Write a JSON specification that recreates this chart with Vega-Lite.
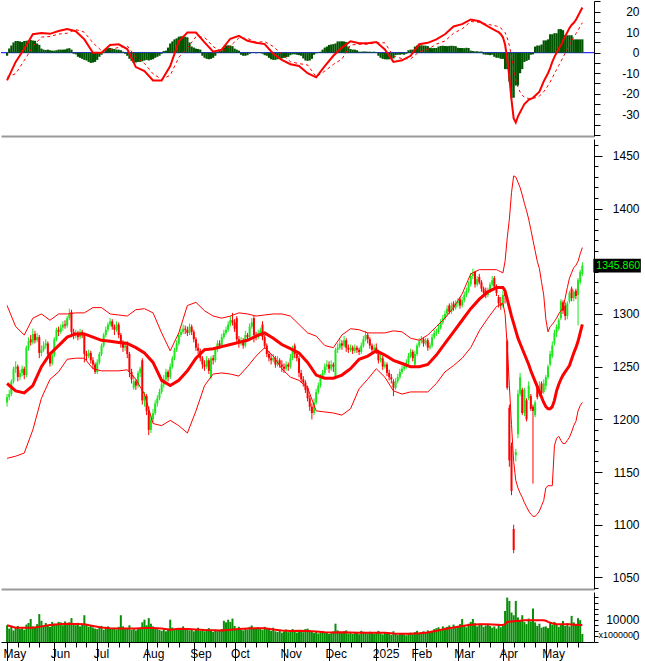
{
"$schema":"https://vega.github.io/schema/vega-lite/v6.json",
"padding":0,
"background":"#ffffff",
"spacing":3,
"bounds":"flush",
"config":{"view":{"stroke":null},"axis":{"grid":false,"labelFont":"Liberation Sans","titleFont":"Liberation Sans","labelColor":"#000000","domainColor":"#000000","tickColor":"#000000","labelOverlap":false,"labelBound":false,"labelFlush":false}},
"datasets":{
"d":[
{"i":0,"o":1216,"h":1224,"l":1212,"c":1221,"v":7500,"mh":-1.5},
{"i":1,"o":1221,"h":1228,"l":1218,"c":1224,"v":6000,"mh":2},
{"i":2,"o":1224,"h":1238,"l":1222,"c":1236,"v":6800,"mh":3.5},
{"i":3,"o":1236,"h":1250,"l":1234,"c":1248,"v":5200,"mh":5},
{"i":4,"o":1248,"h":1255,"l":1244,"c":1250,"v":6500,"mh":5.7},
{"i":5,"o":1250,"h":1252,"l":1236,"c":1240,"v":7200,"mh":5.7},
{"i":6,"o":1240,"h":1247,"l":1237,"c":1244,"v":5800,"mh":5.5},
{"i":7,"o":1244,"h":1251,"l":1241,"c":1248,"v":6200,"mh":5.2},
{"i":8,"o":1248,"h":1250,"l":1238,"c":1242,"v":5500,"mh":5.7},
{"i":9,"o":1242,"h":1270,"l":1240,"c":1268,"v":7800,"mh":5.8},
{"i":10,"o":1268,"h":1278,"l":1265,"c":1274,"v":8500,"mh":6},
{"i":11,"o":1276,"h":1280,"l":1270,"c":1273,"v":10300,"mh":6.2},
{"i":12,"o":1273,"h":1286,"l":1271,"c":1281,"v":7000,"mh":6},
{"i":13,"o":1281,"h":1284,"l":1272,"c":1275,"v":6500,"mh":5.8},
{"i":14,"o":1275,"h":1282,"l":1273,"c":1278,"v":8000,"mh":4.5},
{"i":15,"o":1278,"h":1280,"l":1258,"c":1263,"v":12500,"mh":3.8},
{"i":16,"o":1263,"h":1270,"l":1260,"c":1266,"v":9500,"mh":2},
{"i":17,"o":1266,"h":1274,"l":1264,"c":1270,"v":7000,"mh":1.5},
{"i":18,"o":1270,"h":1276,"l":1267,"c":1272,"v":8500,"mh":1.3},
{"i":19,"o":1272,"h":1274,"l":1258,"c":1262,"v":7200,"mh":1.5},
{"i":20,"o":1262,"h":1264,"l":1250,"c":1253,"v":6800,"mh":1.2},
{"i":21,"o":1253,"h":1264,"l":1251,"c":1261,"v":9000,"mh":1},
{"i":22,"o":1261,"h":1278,"l":1259,"c":1276,"v":8200,"mh":1},
{"i":23,"o":1276,"h":1287,"l":1274,"c":1285,"v":7600,"mh":1.2},
{"i":24,"o":1285,"h":1288,"l":1279,"c":1283,"v":9000,"mh":1.5},
{"i":25,"o":1283,"h":1290,"l":1281,"c":1287,"v":8800,"mh":1.5},
{"i":26,"o":1287,"h":1293,"l":1284,"c":1290,"v":7500,"mh":1.5},
{"i":27,"o":1290,"h":1294,"l":1286,"c":1289,"v":9200,"mh":1.6},
{"i":28,"o":1289,"h":1298,"l":1287,"c":1296,"v":7600,"mh":2},
{"i":29,"o":1296,"h":1305,"l":1294,"c":1300,"v":8800,"mh":2.2},
{"i":30,"o":1302,"h":1304,"l":1278,"c":1283,"v":10700,"mh":1.5},
{"i":31,"o":1283,"h":1286,"l":1276,"c":1280,"v":8200,"mh":-0.5},
{"i":32,"o":1280,"h":1285,"l":1277,"c":1282,"v":7500,"mh":-0.8},
{"i":33,"o":1282,"h":1284,"l":1275,"c":1278,"v":8600,"mh":-2},
{"i":34,"o":1278,"h":1286,"l":1276,"c":1283,"v":7000,"mh":-2.5},
{"i":35,"o":1283,"h":1285,"l":1277,"c":1280,"v":8000,"mh":-3},
{"i":36,"o":1280,"h":1282,"l":1254,"c":1262,"v":12000,"mh":-3.5},
{"i":37,"o":1262,"h":1265,"l":1256,"c":1260,"v":7800,"mh":-3.8},
{"i":38,"o":1260,"h":1266,"l":1258,"c":1263,"v":6800,"mh":-4.5},
{"i":39,"o":1263,"h":1265,"l":1253,"c":1256,"v":7200,"mh":-5},
{"i":40,"o":1256,"h":1259,"l":1248,"c":1252,"v":6500,"mh":-4.8},
{"i":41,"o":1252,"h":1254,"l":1243,"c":1245,"v":6000,"mh":-4.5},
{"i":42,"o":1245,"h":1257,"l":1243,"c":1254,"v":5800,"mh":-3.5},
{"i":43,"o":1254,"h":1264,"l":1252,"c":1262,"v":6800,"mh":-2},
{"i":44,"o":1262,"h":1272,"l":1260,"c":1270,"v":7200,"mh":-1},
{"i":45,"o":1270,"h":1282,"l":1268,"c":1280,"v":5500,"mh":0.5},
{"i":46,"o":1280,"h":1288,"l":1278,"c":1285,"v":6600,"mh":1.8},
{"i":47,"o":1285,"h":1292,"l":1283,"c":1290,"v":7000,"mh":2.2},
{"i":48,"o":1290,"h":1296,"l":1288,"c":1293,"v":6200,"mh":2.3},
{"i":49,"o":1293,"h":1295,"l":1285,"c":1288,"v":5800,"mh":2},
{"i":50,"o":1288,"h":1290,"l":1280,"c":1285,"v":6400,"mh":1.8},
{"i":51,"o":1285,"h":1293,"l":1283,"c":1290,"v":5600,"mh":1.5},
{"i":52,"o":1290,"h":1292,"l":1277,"c":1280,"v":6800,"mh":1.5},
{"i":53,"o":1280,"h":1282,"l":1268,"c":1272,"v":12000,"mh":1.2},
{"i":54,"o":1272,"h":1275,"l":1264,"c":1268,"v":7000,"mh":0.5},
{"i":55,"o":1268,"h":1274,"l":1265,"c":1270,"v":5800,"mh":-0.5},
{"i":56,"o":1270,"h":1274,"l":1258,"c":1262,"v":6200,"mh":-1.5},
{"i":57,"o":1262,"h":1264,"l":1240,"c":1245,"v":7500,"mh":-3},
{"i":58,"o":1245,"h":1248,"l":1234,"c":1238,"v":5400,"mh":-4},
{"i":59,"o":1230,"h":1242,"l":1228,"c":1236,"v":6000,"mh":-5},
{"i":60,"o":1236,"h":1238,"l":1228,"c":1232,"v":5200,"mh":-4.8},
{"i":61,"o":1232,"h":1246,"l":1230,"c":1244,"v":5800,"mh":-4.5},
{"i":62,"o":1244,"h":1250,"l":1240,"c":1248,"v":6200,"mh":-4.5},
{"i":63,"o":1256,"h":1258,"l":1214,"c":1218,"v":8800,"mh":-4.2},
{"i":64,"o":1218,"h":1226,"l":1212,"c":1222,"v":10000,"mh":-3.8},
{"i":65,"o":1222,"h":1224,"l":1204,"c":1208,"v":7500,"mh":-3.5},
{"i":66,"o":1208,"h":1212,"l":1185,"c":1190,"v":10700,"mh":-3.8},
{"i":67,"o":1190,"h":1204,"l":1187,"c":1200,"v":8200,"mh":-3.5},
{"i":68,"o":1200,"h":1210,"l":1197,"c":1206,"v":7000,"mh":-3.2},
{"i":69,"o":1206,"h":1218,"l":1204,"c":1215,"v":6200,"mh":-2.5},
{"i":70,"o":1215,"h":1223,"l":1212,"c":1220,"v":5800,"mh":-2},
{"i":71,"o":1220,"h":1229,"l":1218,"c":1226,"v":5400,"mh":-1.5},
{"i":72,"o":1226,"h":1236,"l":1224,"c":1233,"v":5000,"mh":-0.5},
{"i":73,"o":1233,"h":1242,"l":1230,"c":1238,"v":5600,"mh":0.8},
{"i":74,"o":1238,"h":1248,"l":1236,"c":1245,"v":4800,"mh":1},
{"i":75,"o":1245,"h":1247,"l":1236,"c":1240,"v":6000,"mh":2.5},
{"i":76,"o":1240,"h":1253,"l":1238,"c":1250,"v":10000,"mh":4.5},
{"i":77,"o":1250,"h":1260,"l":1248,"c":1258,"v":6500,"mh":5.5},
{"i":78,"o":1258,"h":1268,"l":1256,"c":1266,"v":5800,"mh":6.5},
{"i":79,"o":1266,"h":1275,"l":1264,"c":1272,"v":6300,"mh":7},
{"i":80,"o":1272,"h":1282,"l":1270,"c":1280,"v":5600,"mh":7.8},
{"i":81,"o":1280,"h":1286,"l":1278,"c":1283,"v":6200,"mh":8},
{"i":82,"o":1283,"h":1290,"l":1281,"c":1286,"v":7000,"mh":8},
{"i":83,"o":1286,"h":1289,"l":1281,"c":1285,"v":5400,"mh":7.8},
{"i":84,"o":1285,"h":1288,"l":1279,"c":1282,"v":6000,"mh":7.5},
{"i":85,"o":1282,"h":1291,"l":1280,"c":1288,"v":5200,"mh":5},
{"i":86,"o":1288,"h":1290,"l":1280,"c":1283,"v":5800,"mh":3},
{"i":87,"o":1283,"h":1285,"l":1273,"c":1276,"v":4800,"mh":2.5},
{"i":88,"o":1276,"h":1278,"l":1265,"c":1268,"v":5600,"mh":2},
{"i":89,"o":1268,"h":1272,"l":1262,"c":1265,"v":6400,"mh":1.8},
{"i":90,"o":1265,"h":1267,"l":1255,"c":1258,"v":5000,"mh":1.5},
{"i":91,"o":1258,"h":1260,"l":1248,"c":1252,"v":5300,"mh":-1.5},
{"i":92,"o":1252,"h":1256,"l":1246,"c":1250,"v":4800,"mh":-2.5},
{"i":93,"o":1250,"h":1260,"l":1248,"c":1256,"v":5800,"mh":-3},
{"i":94,"o":1256,"h":1258,"l":1243,"c":1246,"v":6200,"mh":-3.2},
{"i":95,"o":1240,"h":1260,"l":1238,"c":1258,"v":5000,"mh":-3},
{"i":96,"o":1258,"h":1261,"l":1252,"c":1256,"v":4500,"mh":-2.5},
{"i":97,"o":1256,"h":1268,"l":1254,"c":1266,"v":5600,"mh":-1.5},
{"i":98,"o":1266,"h":1275,"l":1264,"c":1272,"v":4900,"mh":0.5},
{"i":99,"o":1272,"h":1275,"l":1267,"c":1270,"v":5200,"mh":1},
{"i":100,"o":1270,"h":1281,"l":1268,"c":1278,"v":5800,"mh":1.2},
{"i":101,"o":1278,"h":1285,"l":1276,"c":1282,"v":9500,"mh":2.5},
{"i":102,"o":1282,"h":1288,"l":1280,"c":1285,"v":8800,"mh":3.5},
{"i":103,"o":1285,"h":1293,"l":1283,"c":1290,"v":10000,"mh":3.6},
{"i":104,"o":1290,"h":1298,"l":1288,"c":1294,"v":9000,"mh":3.5},
{"i":105,"o":1294,"h":1301,"l":1289,"c":1292,"v":10500,"mh":3.2},
{"i":106,"o":1292,"h":1295,"l":1283,"c":1286,"v":7200,"mh":2},
{"i":107,"o":1296,"h":1298,"l":1272,"c":1276,"v":6000,"mh":1.5},
{"i":108,"o":1276,"h":1279,"l":1268,"c":1272,"v":6800,"mh":1},
{"i":109,"o":1272,"h":1278,"l":1270,"c":1275,"v":5500,"mh":-1},
{"i":110,"o":1275,"h":1277,"l":1267,"c":1270,"v":5200,"mh":-1.5},
{"i":111,"o":1270,"h":1284,"l":1268,"c":1280,"v":6000,"mh":-1.5},
{"i":112,"o":1280,"h":1282,"l":1274,"c":1278,"v":5600,"mh":-1.2},
{"i":113,"o":1278,"h":1291,"l":1276,"c":1288,"v":6800,"mh":-0.5},
{"i":114,"o":1288,"h":1296,"l":1286,"c":1292,"v":7400,"mh":0.3},
{"i":115,"o":1296,"h":1298,"l":1273,"c":1280,"v":6200,"mh":0.2},
{"i":116,"o":1280,"h":1283,"l":1275,"c":1278,"v":5800,"mh":-0.3},
{"i":117,"o":1278,"h":1285,"l":1276,"c":1282,"v":6600,"mh":0.3},
{"i":118,"o":1282,"h":1287,"l":1280,"c":1284,"v":6000,"mh":0.2},
{"i":119,"o":1290,"h":1293,"l":1275,"c":1278,"v":5400,"mh":-0.5},
{"i":120,"o":1278,"h":1280,"l":1267,"c":1270,"v":6800,"mh":-1.2},
{"i":121,"o":1270,"h":1272,"l":1259,"c":1262,"v":6200,"mh":-1.5},
{"i":122,"o":1262,"h":1265,"l":1255,"c":1258,"v":5800,"mh":-2.5},
{"i":123,"o":1258,"h":1262,"l":1252,"c":1256,"v":5000,"mh":-3.2},
{"i":124,"o":1256,"h":1262,"l":1254,"c":1258,"v":6400,"mh":-3.5},
{"i":125,"o":1258,"h":1260,"l":1249,"c":1252,"v":4800,"mh":-3.5},
{"i":126,"o":1252,"h":1260,"l":1250,"c":1256,"v":4500,"mh":-3.2},
{"i":127,"o":1256,"h":1258,"l":1249,"c":1252,"v":5200,"mh":-3},
{"i":128,"o":1252,"h":1256,"l":1245,"c":1250,"v":4200,"mh":-2.8},
{"i":129,"o":1250,"h":1253,"l":1244,"c":1248,"v":4800,"mh":-2.5},
{"i":130,"o":1248,"h":1255,"l":1246,"c":1252,"v":5600,"mh":-2.2},
{"i":131,"o":1252,"h":1254,"l":1246,"c":1250,"v":4400,"mh":-2},
{"i":132,"o":1250,"h":1262,"l":1248,"c":1258,"v":5000,"mh":-1.2},
{"i":133,"o":1258,"h":1270,"l":1256,"c":1266,"v":5800,"mh":-0.8},
{"i":134,"o":1270,"h":1272,"l":1258,"c":1262,"v":4600,"mh":-0.8},
{"i":135,"o":1262,"h":1264,"l":1255,"c":1258,"v":4200,"mh":-1},
{"i":136,"o":1258,"h":1260,"l":1240,"c":1244,"v":5400,"mh":-1.2},
{"i":137,"o":1244,"h":1247,"l":1235,"c":1238,"v":5000,"mh":-1.5},
{"i":138,"o":1238,"h":1241,"l":1231,"c":1235,"v":4400,"mh":-2.8},
{"i":139,"o":1235,"h":1237,"l":1225,"c":1228,"v":5800,"mh":-3.8},
{"i":140,"o":1230,"h":1232,"l":1217,"c":1220,"v":6000,"mh":-4},
{"i":141,"o":1220,"h":1223,"l":1208,"c":1212,"v":5200,"mh":-3.8},
{"i":142,"o":1212,"h":1215,"l":1200,"c":1206,"v":4800,"mh":-3},
{"i":143,"o":1206,"h":1220,"l":1204,"c":1216,"v":4000,"mh":-1},
{"i":144,"o":1216,"h":1229,"l":1214,"c":1226,"v":4600,"mh":-0.3},
{"i":145,"o":1226,"h":1235,"l":1224,"c":1232,"v":3800,"mh":0.3},
{"i":146,"o":1232,"h":1243,"l":1230,"c":1240,"v":4200,"mh":0.5},
{"i":147,"o":1240,"h":1247,"l":1238,"c":1244,"v":4800,"mh":1.5},
{"i":148,"o":1244,"h":1253,"l":1242,"c":1250,"v":4000,"mh":2.5},
{"i":149,"o":1250,"h":1256,"l":1247,"c":1252,"v":4400,"mh":3},
{"i":150,"o":1252,"h":1255,"l":1244,"c":1248,"v":3600,"mh":3.8},
{"i":151,"o":1248,"h":1256,"l":1246,"c":1252,"v":4000,"mh":4},
{"i":152,"o":1252,"h":1254,"l":1245,"c":1250,"v":4800,"mh":4.2},
{"i":153,"o":1240,"h":1268,"l":1238,"c":1266,"v":8200,"mh":4.5},
{"i":154,"o":1266,"h":1272,"l":1263,"c":1268,"v":5200,"mh":5.5},
{"i":155,"o":1268,"h":1277,"l":1266,"c":1272,"v":4600,"mh":5.5},
{"i":156,"o":1272,"h":1275,"l":1266,"c":1270,"v":4200,"mh":5.6},
{"i":157,"o":1270,"h":1279,"l":1268,"c":1275,"v":4800,"mh":5.5},
{"i":158,"o":1275,"h":1277,"l":1264,"c":1268,"v":5200,"mh":5.2},
{"i":159,"o":1268,"h":1271,"l":1263,"c":1266,"v":3800,"mh":3},
{"i":160,"o":1266,"h":1271,"l":1264,"c":1268,"v":4200,"mh":1.8},
{"i":161,"o":1268,"h":1270,"l":1262,"c":1265,"v":3600,"mh":1.5},
{"i":162,"o":1265,"h":1271,"l":1263,"c":1268,"v":4400,"mh":1.5},
{"i":163,"o":1268,"h":1270,"l":1263,"c":1266,"v":4000,"mh":1.2},
{"i":164,"o":1266,"h":1268,"l":1261,"c":1264,"v":3500,"mh":0.5},
{"i":165,"o":1264,"h":1273,"l":1262,"c":1270,"v":5000,"mh":0.5},
{"i":166,"o":1270,"h":1279,"l":1268,"c":1276,"v":4600,"mh":0.6},
{"i":167,"o":1276,"h":1284,"l":1274,"c":1280,"v":4200,"mh":0.6},
{"i":168,"o":1280,"h":1282,"l":1272,"c":1276,"v":3800,"mh":0.5},
{"i":169,"o":1276,"h":1278,"l":1267,"c":1270,"v":4600,"mh":0.5},
{"i":170,"o":1270,"h":1272,"l":1263,"c":1266,"v":4000,"mh":0.4},
{"i":171,"o":1266,"h":1271,"l":1264,"c":1268,"v":3600,"mh":0.5},
{"i":172,"o":1268,"h":1272,"l":1262,"c":1264,"v":4200,"mh":0.3},
{"i":173,"o":1264,"h":1266,"l":1253,"c":1256,"v":5000,"mh":-1.5},
{"i":174,"o":1256,"h":1262,"l":1254,"c":1258,"v":3800,"mh":-2.5},
{"i":175,"o":1258,"h":1260,"l":1247,"c":1250,"v":3400,"mh":-3},
{"i":176,"o":1250,"h":1255,"l":1248,"c":1252,"v":4400,"mh":-3.2},
{"i":177,"o":1252,"h":1254,"l":1241,"c":1244,"v":3600,"mh":-3.3},
{"i":178,"o":1244,"h":1247,"l":1237,"c":1240,"v":4000,"mh":-3.2},
{"i":179,"o":1240,"h":1243,"l":1234,"c":1238,"v":3200,"mh":-3},
{"i":180,"o":1236,"h":1238,"l":1222,"c":1230,"v":4800,"mh":-2.8},
{"i":181,"o":1230,"h":1239,"l":1228,"c":1236,"v":3800,"mh":-1.2},
{"i":182,"o":1236,"h":1243,"l":1234,"c":1240,"v":3200,"mh":-1},
{"i":183,"o":1240,"h":1248,"l":1238,"c":1245,"v":3600,"mh":-1},
{"i":184,"o":1245,"h":1251,"l":1243,"c":1248,"v":4000,"mh":-0.8},
{"i":185,"o":1248,"h":1253,"l":1246,"c":1250,"v":3400,"mh":-1},
{"i":186,"o":1250,"h":1257,"l":1248,"c":1254,"v":3000,"mh":-0.5},
{"i":187,"o":1254,"h":1263,"l":1252,"c":1260,"v":3800,"mh":1.2},
{"i":188,"o":1260,"h":1267,"l":1258,"c":1264,"v":4200,"mh":1.5},
{"i":189,"o":1264,"h":1266,"l":1255,"c":1258,"v":3500,"mh":1.5},
{"i":190,"o":1252,"h":1265,"l":1250,"c":1262,"v":4400,"mh":3},
{"i":191,"o":1262,"h":1272,"l":1260,"c":1270,"v":5000,"mh":3.5},
{"i":192,"o":1270,"h":1277,"l":1268,"c":1274,"v":3800,"mh":3.6},
{"i":193,"o":1274,"h":1279,"l":1272,"c":1276,"v":4200,"mh":3.6},
{"i":194,"o":1276,"h":1278,"l":1269,"c":1272,"v":4800,"mh":3.5},
{"i":195,"o":1272,"h":1277,"l":1270,"c":1275,"v":4000,"mh":3.4},
{"i":196,"o":1275,"h":1277,"l":1265,"c":1268,"v":5200,"mh":3.2},
{"i":197,"o":1268,"h":1273,"l":1266,"c":1270,"v":4400,"mh":2.4},
{"i":198,"o":1270,"h":1281,"l":1268,"c":1278,"v":5000,"mh":2.2},
{"i":199,"o":1278,"h":1285,"l":1276,"c":1282,"v":5800,"mh":2.3},
{"i":200,"o":1282,"h":1286,"l":1279,"c":1283,"v":6200,"mh":2.3},
{"i":201,"o":1283,"h":1290,"l":1281,"c":1287,"v":6600,"mh":3},
{"i":202,"o":1287,"h":1295,"l":1285,"c":1292,"v":5400,"mh":3.3},
{"i":203,"o":1292,"h":1299,"l":1290,"c":1296,"v":7000,"mh":3.4},
{"i":204,"o":1296,"h":1303,"l":1294,"c":1300,"v":6400,"mh":3.3},
{"i":205,"o":1300,"h":1308,"l":1298,"c":1305,"v":6800,"mh":3.2},
{"i":206,"o":1308,"h":1310,"l":1300,"c":1302,"v":7400,"mh":3.3},
{"i":207,"o":1302,"h":1311,"l":1300,"c":1308,"v":6000,"mh":3.4},
{"i":208,"o":1310,"h":1312,"l":1303,"c":1306,"v":7800,"mh":3.3},
{"i":209,"o":1306,"h":1313,"l":1304,"c":1310,"v":6800,"mh":3.2},
{"i":210,"o":1310,"h":1315,"l":1307,"c":1312,"v":7200,"mh":2.4},
{"i":211,"o":1314,"h":1316,"l":1305,"c":1308,"v":8000,"mh":2.3},
{"i":212,"o":1308,"h":1316,"l":1306,"c":1313,"v":10300,"mh":2.3},
{"i":213,"o":1313,"h":1321,"l":1311,"c":1318,"v":7400,"mh":2.2},
{"i":214,"o":1318,"h":1325,"l":1316,"c":1322,"v":6600,"mh":2.4},
{"i":215,"o":1322,"h":1331,"l":1320,"c":1328,"v":8200,"mh":2.3},
{"i":216,"o":1328,"h":1339,"l":1326,"c":1336,"v":9000,"mh":1},
{"i":217,"o":1336,"h":1343,"l":1333,"c":1338,"v":10300,"mh":0.8},
{"i":218,"o":1340,"h":1341,"l":1325,"c":1328,"v":8400,"mh":0.6},
{"i":219,"o":1328,"h":1336,"l":1326,"c":1333,"v":7000,"mh":0.7},
{"i":220,"o":1335,"h":1338,"l":1328,"c":1330,"v":7600,"mh":0.5},
{"i":221,"o":1330,"h":1332,"l":1321,"c":1324,"v":8200,"mh":0.6},
{"i":222,"o":1324,"h":1326,"l":1317,"c":1320,"v":6800,"mh":-0.8},
{"i":223,"o":1322,"h":1325,"l":1315,"c":1318,"v":7400,"mh":-1},
{"i":224,"o":1318,"h":1325,"l":1316,"c":1322,"v":8000,"mh":-1},
{"i":225,"o":1322,"h":1330,"l":1320,"c":1328,"v":7200,"mh":-1.2},
{"i":226,"o":1328,"h":1336,"l":1326,"c":1332,"v":6400,"mh":-1},
{"i":227,"o":1334,"h":1336,"l":1323,"c":1326,"v":7000,"mh":-2},
{"i":228,"o":1326,"h":1328,"l":1317,"c":1320,"v":6000,"mh":-2.5},
{"i":229,"o":1316,"h":1318,"l":1306,"c":1310,"v":7800,"mh":-2.5},
{"i":230,"o":1310,"h":1316,"l":1304,"c":1308,"v":6600,"mh":-3},
{"i":231,"o":1308,"h":1322,"l":1306,"c":1318,"v":7200,"mh":-3},
{"i":232,"o":1322,"h":1324,"l":1310,"c":1317,"v":13900,"mh":-8},
{"i":233,"o":1274,"h":1276,"l":1228,"c":1230,"v":19900,"mh":-8},
{"i":234,"o":1211,"h":1214,"l":1155,"c":1161,"v":18400,"mh":-14},
{"i":235,"o":1175,"h":1178,"l":1128,"c":1132,"v":13200,"mh":-22},
{"i":236,"o":1096,"h":1100,"l":1073,"c":1076,"v":12000,"mh":-22},
{"i":237,"o":1166,"h":1172,"l":1160,"c":1169,"v":18400,"mh":-16},
{"i":238,"o":1186,"h":1228,"l":1182,"c":1224,"v":11000,"mh":-16},
{"i":239,"o":1224,"h":1244,"l":1222,"c":1240,"v":9500,"mh":-10},
{"i":240,"o":1228,"h":1230,"l":1204,"c":1206,"v":12000,"mh":-8},
{"i":241,"o":1206,"h":1230,"l":1203,"c":1228,"v":9000,"mh":-4.5},
{"i":242,"o":1218,"h":1220,"l":1198,"c":1200,"v":8000,"mh":-4},
{"i":243,"o":1220,"h":1236,"l":1218,"c":1232,"v":10500,"mh":-3.5},
{"i":244,"o":1222,"h":1224,"l":1208,"c":1210,"v":9200,"mh":-1},
{"i":245,"o":1212,"h":1214,"l":1139,"c":1208,"v":15000,"mh":-0.8},
{"i":246,"o":1204,"h":1218,"l":1202,"c":1216,"v":8800,"mh":3},
{"i":247,"o":1232,"h":1234,"l":1219,"c":1221,"v":7200,"mh":3.5},
{"i":248,"o":1225,"h":1236,"l":1222,"c":1232,"v":8200,"mh":3.5},
{"i":249,"o":1234,"h":1236,"l":1222,"c":1225,"v":6400,"mh":4},
{"i":250,"o":1226,"h":1238,"l":1224,"c":1234,"v":6800,"mh":6},
{"i":251,"o":1232,"h":1242,"l":1228,"c":1240,"v":7000,"mh":6},
{"i":252,"o":1240,"h":1252,"l":1238,"c":1250,"v":6200,"mh":6.5},
{"i":253,"o":1252,"h":1265,"l":1250,"c":1262,"v":8600,"mh":9},
{"i":254,"o":1260,"h":1274,"l":1258,"c":1270,"v":7800,"mh":9},
{"i":255,"o":1272,"h":1285,"l":1270,"c":1282,"v":9000,"mh":9.5},
{"i":256,"o":1282,"h":1290,"l":1278,"c":1288,"v":7600,"mh":9.5},
{"i":257,"o":1286,"h":1296,"l":1284,"c":1294,"v":6800,"mh":11.5},
{"i":258,"o":1296,"h":1314,"l":1294,"c":1312,"v":8000,"mh":11.5},
{"i":259,"o":1311,"h":1313,"l":1300,"c":1303,"v":9400,"mh":11},
{"i":260,"o":1308,"h":1311,"l":1294,"c":1298,"v":7200,"mh":8.5},
{"i":261,"o":1298,"h":1312,"l":1295,"c":1310,"v":8400,"mh":8.5},
{"i":262,"o":1312,"h":1322,"l":1310,"c":1320,"v":7000,"mh":8.5},
{"i":263,"o":1324,"h":1326,"l":1312,"c":1315,"v":11700,"mh":8.5},
{"i":264,"o":1315,"h":1323,"l":1312,"c":1321,"v":8800,"mh":6.5},
{"i":265,"o":1322,"h":1324,"l":1314,"c":1317,"v":7600,"mh":6.5},
{"i":266,"o":1318,"h":1334,"l":1289,"c":1332,"v":10700,"mh":6.5},
{"i":267,"o":1330,"h":1342,"l":1328,"c":1340,"v":9800,"mh":6.5},
{"i":268,"o":1338,"h":1349,"l":1336,"c":1345.86,"v":3600,"mh":6.5}
],
"ln":[
{"i":0,"m":-13.5,"s":-12,"bu":1308,"bm":1234,"bl":1163,"vm":7500},
{"i":4,"m":-4.5,"s":-10.2,"bu":1288,"bm":1227,"bl":1165,"vm":6400},
{"i":8,"m":1.9,"s":-3.8,"bu":1280,"bm":1225,"bl":1168,"vm":6400},
{"i":12,"m":9,"s":3,"bu":1296,"bm":1232,"bl":1190,"vm":6400},
{"i":16,"m":9.6,"s":7.6,"bu":1300,"bm":1250,"bl":1220,"vm":7000},
{"i":20,"m":9.2,"s":7.9,"bu":1294,"bm":1262,"bl":1238,"vm":7600},
{"i":24,"m":10.6,"s":9.1,"bu":1300,"bm":1270,"bl":1245,"vm":7900},
{"i":28,"m":11.5,"s":9.5,"bu":1300,"bm":1278,"bl":1257,"vm":8200},
{"i":32,"m":10.5,"s":11.3,"bu":1301,"bm":1281,"bl":1258,"vm":8100},
{"i":36,"m":6.5,"s":10,"bu":1301,"bm":1281,"bl":1258,"vm":7900},
{"i":40,"m":0,"s":4.8,"bu":1306,"bm":1278,"bl":1248,"vm":7200},
{"i":44,"m":0,"s":1,"bu":1306,"bm":1275,"bl":1246,"vm":6500},
{"i":48,"m":3.8,"s":1.5,"bu":1300,"bm":1274,"bl":1246,"vm":6200},
{"i":52,"m":4.1,"s":2.6,"bu":1299,"bm":1273,"bl":1246,"vm":6000},
{"i":56,"m":1.8,"s":3.3,"bu":1298,"bm":1272,"bl":1247,"vm":6000},
{"i":60,"m":-7,"s":-2.2,"bu":1304,"bm":1268,"bl":1238,"vm":6000},
{"i":64,"m":-9,"s":-5.2,"bu":1305,"bm":1263,"bl":1224,"vm":6300},
{"i":68,"m":-13.5,"s":-10.3,"bu":1301,"bm":1254,"bl":1196,"vm":6300},
{"i":72,"m":-13.5,"s":-13,"bu":1282,"bm":1237,"bl":1194,"vm":6000},
{"i":76,"m":-6.5,"s":-11,"bu":1265,"bm":1232,"bl":1199,"vm":5500},
{"i":80,"m":5.5,"s":-2.3,"bu":1282,"bm":1237,"bl":1194,"vm":5900},
{"i":84,"m":9.8,"s":2.3,"bu":1308,"bm":1246,"bl":1187,"vm":5800},
{"i":88,"m":9.8,"s":7.8,"bu":1311,"bm":1258,"bl":1208,"vm":5600},
{"i":92,"m":5,"s":7.5,"bu":1303,"bm":1266,"bl":1232,"vm":5400},
{"i":96,"m":0.5,"s":3,"bu":1298,"bm":1267,"bl":1243,"vm":5300},
{"i":100,"m":1.5,"s":0.3,"bu":1296,"bm":1269,"bl":1244,"vm":5200},
{"i":104,"m":6.8,"s":3.3,"bu":1298,"bm":1271,"bl":1243,"vm":5500},
{"i":108,"m":8.2,"s":7.2,"bu":1301,"bm":1273,"bl":1241,"vm":5800},
{"i":112,"m":5.8,"s":7,"bu":1300,"bm":1275,"bl":1250,"vm":6100},
{"i":116,"m":4.8,"s":5.1,"bu":1298,"bm":1279,"bl":1260,"vm":6200},
{"i":120,"m":4.2,"s":5.4,"bu":1299,"bm":1282,"bl":1268,"vm":6200},
{"i":124,"m":-0.5,"s":3,"bu":1300,"bm":1277,"bl":1260,"vm":5600},
{"i":128,"m":-3.5,"s":-0.7,"bu":1300,"bm":1271,"bl":1248,"vm":5100},
{"i":132,"m":-5.6,"s":-4.4,"bu":1298,"bm":1267,"bl":1240,"vm":4900},
{"i":136,"m":-6.5,"s":-5.3,"bu":1290,"bm":1263,"bl":1237,"vm":5000},
{"i":140,"m":-10,"s":-6,"bu":1282,"bm":1254,"bl":1230,"vm":4900},
{"i":144,"m":-12,"s":-11.7,"bu":1279,"bm":1242,"bl":1208,"vm":4700},
{"i":148,"m":-6.5,"s":-9,"bu":1270,"bm":1239,"bl":1207,"vm":4400},
{"i":152,"m":-1.5,"s":-5.7,"bu":1268,"bm":1239,"bl":1206,"vm":4300},
{"i":156,"m":2.5,"s":-3.1,"bu":1280,"bm":1242,"bl":1204,"vm":4400},
{"i":160,"m":5.6,"s":3.8,"bu":1286,"bm":1248,"bl":1210,"vm":4300},
{"i":164,"m":4.6,"s":4.1,"bu":1285,"bm":1257,"bl":1229,"vm":4200},
{"i":168,"m":4.6,"s":4.1,"bu":1282,"bm":1260,"bl":1238,"vm":4200},
{"i":172,"m":5.2,"s":4.9,"bu":1282,"bm":1265,"bl":1248,"vm":4200},
{"i":176,"m":1.6,"s":4.8,"bu":1282,"bm":1261,"bl":1240,"vm":4100},
{"i":180,"m":-4.5,"s":-1.7,"bu":1284,"bm":1256,"bl":1227,"vm":3800},
{"i":184,"m":-3.7,"s":-2.9,"bu":1283,"bm":1253,"bl":1224,"vm":3700},
{"i":188,"m":-1.5,"s":-3,"bu":1277,"bm":1250,"bl":1226,"vm":3700},
{"i":192,"m":4.1,"s":0.5,"bu":1275,"bm":1250,"bl":1226,"vm":3900},
{"i":196,"m":4.8,"s":1.6,"bu":1280,"bm":1252,"bl":1226,"vm":4300},
{"i":200,"m":6.5,"s":4.2,"bu":1288,"bm":1261,"bl":1234,"vm":5000},
{"i":204,"m":9,"s":5.7,"bu":1296,"bm":1272,"bl":1245,"vm":5800},
{"i":208,"m":12.8,"s":9.5,"bu":1306,"bm":1283,"bl":1251,"vm":6500},
{"i":212,"m":13.9,"s":11.6,"bu":1319,"bm":1294,"bl":1258,"vm":7200},
{"i":216,"m":16.2,"s":15.2,"bu":1338,"bm":1305,"bl":1268,"vm":7700},
{"i":220,"m":15.3,"s":14.8,"bu":1342,"bm":1314,"bl":1284,"vm":7900},
{"i":224,"m":12.8,"s":13.8,"bu":1342,"bm":1321,"bl":1296,"vm":7900},
{"i":228,"m":10.5,"s":13,"bu":1342,"bm":1325,"bl":1307,"vm":7700},
{"i":229,"m":10,"s":12.6,"bu":1341,"bm":1325,"bl":1308,"vm":7700},
{"i":230,"m":9,"s":12,"bu":1340,"bm":1325,"bl":1309,"vm":7600},
{"i":231,"m":7.5,"s":11,"bu":1339,"bm":1325,"bl":1310,"vm":7600},
{"i":232,"m":4,"s":9.8,"bu":1350,"bm":1322,"bl":1300,"vm":8000},
{"i":233,"m":-3,"s":7.2,"bu":1372,"bm":1314,"bl":1270,"vm":9000},
{"i":234,"m":-12,"s":3.4,"bu":1390,"bm":1306,"bl":1232,"vm":9100},
{"i":235,"m":-23,"s":-1.9,"bu":1415,"bm":1298,"bl":1195,"vm":9200},
{"i":236,"m":-32,"s":-7.9,"bu":1431,"bm":1291,"bl":1160,"vm":9300},
{"i":237,"m":-34,"s":-13.1,"bu":1430,"bm":1284,"bl":1142,"vm":9400},
{"i":238,"m":-31,"s":-16.7,"bu":1425,"bm":1277,"bl":1135,"vm":9400},
{"i":239,"m":-29,"s":-19.2,"bu":1420,"bm":1272,"bl":1130,"vm":9500},
{"i":240,"m":-27,"s":-20.8,"bu":1413,"bm":1267,"bl":1126,"vm":9600},
{"i":241,"m":-25,"s":-21.6,"bu":1405,"bm":1262,"bl":1121,"vm":9700},
{"i":242,"m":-24,"s":-22.1,"bu":1398,"bm":1257,"bl":1117,"vm":9700},
{"i":243,"m":-23,"s":-22.3,"bu":1390,"bm":1252,"bl":1113,"vm":9700},
{"i":244,"m":-22.5,"s":-22.3,"bu":1380,"bm":1246,"bl":1110,"vm":9700},
{"i":245,"m":-22,"s":-22.2,"bu":1370,"bm":1241,"bl":1108,"vm":9700},
{"i":246,"m":-21,"s":-22,"bu":1360,"bm":1236,"bl":1108,"vm":9700},
{"i":247,"m":-20,"s":-21.6,"bu":1350,"bm":1231,"bl":1110,"vm":9700},
{"i":248,"m":-19,"s":-21.1,"bu":1343,"bm":1226,"bl":1113,"vm":9700},
{"i":249,"m":-16.5,"s":-20.2,"bu":1330,"bm":1221,"bl":1118,"vm":9700},
{"i":250,"m":-14,"s":-19,"bu":1318,"bm":1216,"bl":1123,"vm":9700},
{"i":251,"m":-12,"s":-17.6,"bu":1295,"bm":1212,"bl":1135,"vm":9500},
{"i":252,"m":-10,"s":-16,"bu":1283,"bm":1210,"bl":1137,"vm":9000},
{"i":253,"m":-7.5,"s":-14.3,"bu":1288,"bm":1210,"bl":1137,"vm":8700},
{"i":254,"m":-4.5,"s":-12.3,"bu":1290,"bm":1212,"bl":1137,"vm":8400},
{"i":255,"m":-2,"s":-10.2,"bu":1293,"bm":1218,"bl":1175,"vm":8200},
{"i":256,"m":0,"s":-8.2,"bu":1296,"bm":1227,"bl":1182,"vm":8000},
{"i":257,"m":2,"s":-6.2,"bu":1300,"bm":1233,"bl":1184,"vm":7900},
{"i":258,"m":3.5,"s":-4.3,"bu":1303,"bm":1238,"bl":1180,"vm":7900},
{"i":259,"m":6,"s":-2.3,"bu":1306,"bm":1242,"bl":1177,"vm":7900},
{"i":260,"m":8,"s":-0.2,"bu":1315,"bm":1245,"bl":1177,"vm":7900},
{"i":261,"m":10,"s":1.8,"bu":1325,"bm":1248,"bl":1180,"vm":7900},
{"i":262,"m":12,"s":3.8,"bu":1334,"bm":1251,"bl":1183,"vm":7900},
{"i":263,"m":13.5,"s":5.7,"bu":1339,"bm":1257,"bl":1188,"vm":7800},
{"i":264,"m":14.6,"s":7.5,"bu":1344,"bm":1263,"bl":1194,"vm":7700},
{"i":265,"m":16,"s":9.2,"bu":1346,"bm":1268,"bl":1198,"vm":7700},
{"i":266,"m":18,"s":11,"bu":1350,"bm":1274,"bl":1208,"vm":7600},
{"i":267,"m":20,"s":12.8,"bu":1357,"bm":1282,"bl":1213,"vm":7600},
{"i":268,"m":22,"s":14.6,"bu":1363,"bm":1290,"bl":1216,"vm":7600}
]
},
"vconcat":[
{
"width":593,"height":135,
"layer":[
{"data":{"values":[{}]},"mark":{"type":"rule","color":"#0000ff","strokeWidth":1},
 "encoding":{"y":{"datum":0,"type":"quantitative","scale":{"domain":[-40.6,25.2],"nice":false,"zero":false}}}},
{"data":{"name":"d"},"mark":{"type":"bar","color":"#005500","size":2.2},
 "encoding":{
  "x":{"field":"i","type":"quantitative","scale":{"domain":[-0.5,271.1],"nice":false,"zero":false},
       "axis":{"orient":"bottom","title":null,"labels":false,"ticks":false,"domainColor":"#9a9a9a","domainWidth":2}},
  "y":{"field":"mh","type":"quantitative","scale":{"domain":[-40.6,25.2],"nice":false,"zero":false},
       "axis":{"orient":"right","title":null,"tickCount":1000,"values":[-40,-35,-30,-25,-20,-15,-10,-5,0,5,10,15,20,25],
        "labelExpr":"datum.value % 10 === 0 && datum.value > -40 ? '' + datum.value : ''",
        "labelFontSize":{"condition":{"test":"datum.value % 10 === 0 && datum.value > -40","value":12},"value":0},
        "tickSize":6,"labelAlign":"right","labelPadding":39,"labelBaseline":"middle",
        "labelOverlap":false,"labelBound":false,"labelFlush":false}},
  "y2":{"datum":0}}},
{"data":{"name":"ln"},"mark":{"type":"line","color":"#ff0000","strokeWidth":1,"strokeDash":[3,3]},
 "encoding":{
  "x":{"field":"i","type":"quantitative","scale":{"domain":[-0.5,271.1],"nice":false,"zero":false}},
  "y":{"field":"s","type":"quantitative","scale":{"domain":[-40.6,25.2],"nice":false,"zero":false}}}},
{"data":{"name":"ln"},"mark":{"type":"line","color":"#ff0000","strokeWidth":2},
 "encoding":{
  "x":{"field":"i","type":"quantitative","scale":{"domain":[-0.5,271.1],"nice":false,"zero":false}},
  "y":{"field":"m","type":"quantitative","scale":{"domain":[-40.6,25.2],"nice":false,"zero":false}}}}
]
},
{
"width":593,"height":450,
"layer":[
{"data":{"name":"d"},"mark":{"type":"rule","strokeWidth":1},
 "encoding":{
  "x":{"field":"i","type":"quantitative","scale":{"domain":[-0.5,271.1],"nice":false,"zero":false},
       "axis":{"orient":"bottom","title":null,"labels":false,"ticks":false,"domainColor":"#9a9a9a","domainWidth":2}},
  "y":{"field":"l","type":"quantitative","scale":{"domain":[1039,1466],"nice":false,"zero":false},
       "axis":{"orient":"right","title":null,"tickCount":1000,"values":[1040,1050,1060,1070,1080,1090,1100,1110,1120,1130,1140,1150,1160,1170,1180,1190,1200,1210,1220,1230,1240,1250,1260,1270,1280,1290,1300,1310,1320,1330,1340,1350,1360,1370,1380,1390,1400,1410,1420,1430,1440,1450,1460],
        "labelExpr":"datum.value % 50 === 0 && datum.value !== 1350 ? '' + datum.value : ''",
        "labelFontSize":{"condition":{"test":"datum.value % 50 === 0 && datum.value !== 1350","value":12},"value":0},
        "tickSize":{"condition":{"test":"datum.value % 50 === 0","value":8},"value":4},
        "labelAlign":"right","labelPadding":37,"labelBaseline":"middle",
        "labelOverlap":false,"labelBound":false,"labelFlush":false}},
  "y2":{"field":"h"},
  "color":{"condition":{"test":"datum.c >= datum.o","value":"#1ee61e"},"value":"#ff0000"}}},
{"data":{"name":"d"},"mark":{"type":"bar","size":2},
 "encoding":{
  "x":{"field":"i","type":"quantitative","scale":{"domain":[-0.5,271.1],"nice":false,"zero":false}},
  "y":{"field":"o","type":"quantitative","scale":{"domain":[1039,1466],"nice":false,"zero":false}},
  "y2":{"field":"c"},
  "color":{"condition":{"test":"datum.c >= datum.o","value":"#1ee61e"},"value":"#ff0000"}}},
{"data":{"name":"ln"},"mark":{"type":"line","color":"#ff0000","strokeWidth":1},
 "encoding":{
  "x":{"field":"i","type":"quantitative","scale":{"domain":[-0.5,271.1],"nice":false,"zero":false}},
  "y":{"field":"bu","type":"quantitative","scale":{"domain":[1039,1466],"nice":false,"zero":false}}}},
{"data":{"name":"ln"},"mark":{"type":"line","color":"#ff0000","strokeWidth":1},
 "encoding":{
  "x":{"field":"i","type":"quantitative","scale":{"domain":[-0.5,271.1],"nice":false,"zero":false}},
  "y":{"field":"bl","type":"quantitative","scale":{"domain":[1039,1466],"nice":false,"zero":false}}}},
{"data":{"name":"ln"},"mark":{"type":"line","color":"#ff0000","strokeWidth":3},
 "encoding":{
  "x":{"field":"i","type":"quantitative","scale":{"domain":[-0.5,271.1],"nice":false,"zero":false}},
  "y":{"field":"bm","type":"quantitative","scale":{"domain":[1039,1466],"nice":false,"zero":false}}}},
{"data":{"name":"d"},"transform":[{"filter":"datum.i === 268"}],
 "mark":{"type":"point","shape":"M0.49,-0.31H2.6V0.31H0.49Z","size":2025,"filled":true,"color":"#000000","opacity":1,"strokeWidth":0},
 "encoding":{
  "x":{"field":"i","type":"quantitative","scale":{"domain":[-0.5,271.1],"nice":false,"zero":false}},
  "y":{"field":"c","type":"quantitative","scale":{"domain":[1039,1466],"nice":false,"zero":false}}}},
{"data":{"name":"d"},"transform":[{"filter":"datum.i === 268"}],
 "mark":{"type":"text","align":"left","baseline":"middle","dx":14,"color":"#00ff00","fontSize":10.5,"font":"Liberation Sans"},
 "encoding":{
  "x":{"field":"i","type":"quantitative","scale":{"domain":[-0.5,271.1],"nice":false,"zero":false}},
  "y":{"field":"c","type":"quantitative","scale":{"domain":[1039,1466],"nice":false,"zero":false}},
  "text":{"field":"c","type":"quantitative","format":".3f"}}}
]
},
{
"width":593,"height":50,
"layer":[
{"data":{"name":"d"},"mark":{"type":"bar","color":"#088f08","size":2},
 "encoding":{
  "x":{"field":"i","type":"quantitative","scale":{"domain":[-0.5,271.1],"nice":false,"zero":false},
       "axis":{"orient":"bottom","title":null,"tickCount":1000,
        "values":[0,5,10,15,22,27,32,37,42,47,52,57,65,70,75,80,87,92,97,102,106,111,116,121,129,134,139,144,150,155,160,165,172,177,182,190,195,200,205,210,215,220,225,231,236,241,246,251,256,261,266],
        "labelExpr":"indexof([0,22,42,65,87,106,129,150,172,190,210,231,251], datum.value) >= 0 ? ['May','Jun','Jul','Aug','Sep','Oct','Nov','Dec','2025','Feb','Mar','Apr','May'][indexof([0,22,42,65,87,106,129,150,172,190,210,231,251], datum.value)] : ''",
        "labelFontSize":{"condition":{"test":"indexof([0,22,42,65,87,106,129,150,172,190,210,231,251], datum.value) >= 0","value":12},"value":0},
        "tickSize":{"condition":{"test":"indexof([0,22,42,65,87,106,129,150,172,190,210,231,251], datum.value) >= 0","value":19},"value":5},
        "labelAlign":"left","labelOffset":-4,"labelPadding":-13,"labelBaseline":"top",
        "labelOverlap":false,"labelBound":false,"labelFlush":false}},
  "y":{"field":"v","type":"quantitative","scale":{"domain":[0,22400],"nice":false,"zero":false},
       "axis":{"orient":"right","tickCount":1000,"values":[0,2500,5000,7500,10000,12500,15000,17500,20000],
        "labelExpr":"datum.value === 10000 ? '10000' : (datum.value === 0 ? '0' : '')",
        "labelFontSize":{"condition":{"test":"datum.value === 10000 || datum.value === 0","value":12},"value":0},
        "tickSize":4,"labelAlign":"right","labelPadding":41,
        "labelBaseline":{"condition":{"test":"datum.value === 0","value":"bottom"},"value":"middle"},
        "labelOverlap":false,"labelBound":false,"labelFlush":false,
        "title":"x100000","titleAngle":0,"titleX":4,"titleY":42,"titleAlign":"left","titleBaseline":"middle","titleFontSize":9,"titleFontWeight":"normal","titleColor":"#000000"}},
  "y2":{"datum":0}}},
{"data":{"name":"ln"},"mark":{"type":"line","color":"#ff0000","strokeWidth":2},
 "encoding":{
  "x":{"field":"i","type":"quantitative","scale":{"domain":[-0.5,271.1],"nice":false,"zero":false}},
  "y":{"field":"vm","type":"quantitative","scale":{"domain":[0,22400],"nice":false,"zero":false}}}}
]
}
]
}
